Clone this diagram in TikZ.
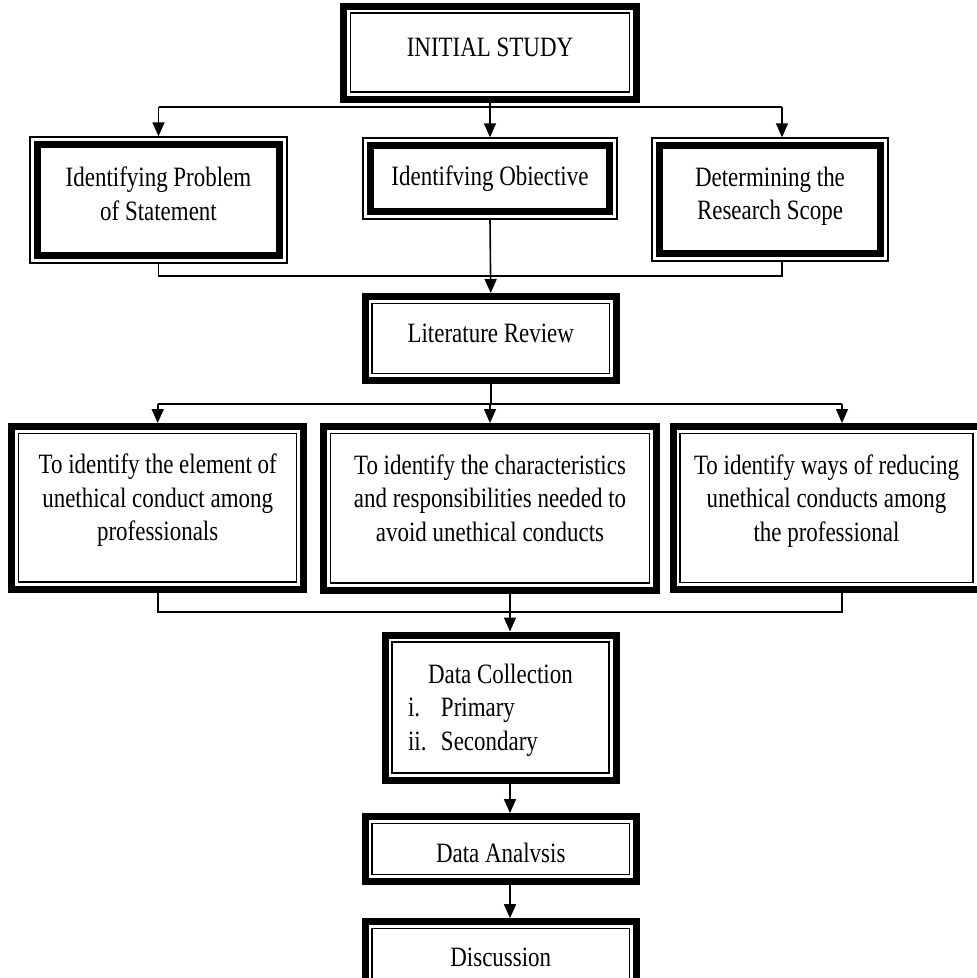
\documentclass[tikz,border=0pt]{standalone}
\usepackage{fontspec}
\setmainfont{Liberation Serif}[FakeStretch=0.82]
\usepackage{tikz}
\usetikzlibrary{arrows.meta, positioning, calc}
\tikzstyle{thickthin} = [rectangle, draw=black, line width=7pt, align=center, inner sep=0pt, font=\fontsize{28}{33.5}\selectfont]
\tikzstyle{thinthick} = [rectangle, draw=black, line width=1.5pt, align=center, inner sep=0pt, font=\fontsize{28}{33.5}\selectfont]
\tikzstyle{line} = [line width=1.6pt]
\tikzstyle{arrow} = [line width=1.6pt, -{Triangle[length=14pt, width=12pt]}]
% lines of a box, lifted by #1 inside the box
\newcommand{\liftup}[3][c]{\raisebox{#2}[\height][\depth]{\begin{tabular}{@{}#1@{}}#3\end{tabular}}}

\begin{document}
\begin{tikzpicture}[x=1pt, y=1pt]
	\useasboundingbox (0,0) rectangle (977,-978);
	% boxes
	\node (init) [thickthin, minimum width=293pt, minimum height=93pt] at (490,-52.5) {\liftup{3pt}{INITIAL STUDY}};
	\node (prob) [thinthick, minimum width=257pt, minimum height=126pt] at (158.5,-200) {\liftup{3pt}{Identifying Problem\\of Statement}};
	\node (obj) [thinthick, minimum width=254pt, minimum height=81pt] at (490,-178.5) {\liftup{0pt}{Identifving Obiective}};
	\node (det) [thinthick, minimum width=236pt, minimum height=123pt] at (770,-199.5) {\liftup{3pt}{Determining the\\Research Scope}};
	\node (lit) [thickthin, minimum width=251.5pt, minimum height=84pt] at (490.75,-338.5) {\liftup{3pt}{Literature Review}};
	\node (ele) [thickthin, minimum width=292pt, minimum height=162.5pt] at (157.7,-507.75) {\liftup{7pt}{To identify the element of\\unethical conduct among\\professionals}};
	\node (cha) [thickthin, minimum width=333.4pt, minimum height=163.5pt] at (490,-508.25) {\liftup{7pt}{To identify the characteristics\\and responsibilities needed to\\avoid unethical conducts}};
	\node (red) [thickthin, minimum width=307pt, minimum height=163pt] at (826.5,-508) {\liftup{7pt}{To identify ways of reducing\\unethical conducts among\\the professional}};
	\node (dc) [thickthin, minimum width=231pt, minimum height=145pt] at (500.5,-707.5) {\liftup[p{185pt}]{-2.5pt}{\hspace*{20pt}\mbox{Data Collection}\\\makebox[33pt][l]{i.}Primary\\\makebox[33pt][l]{ii.}Secondary}};
	\node (da) [thickthin, minimum width=271.5pt, minimum height=65pt] at (500.75,-849.1) {\liftup{-7pt}{Data Analvsis}};
	\node (disc) [thickthin, minimum width=271.5pt, minimum height=65pt] at (500.75,-954.2) {\liftup{-6pt}{Discussion}};

	% second border of each box
	\foreach \n in {init, lit, ele, cha, red, dc, da, disc}
		\draw[line width=1.5pt] ([shift={(10.5pt,-10.5pt)}]\n.north west) rectangle ([shift={(-10.5pt,10.5pt)}]\n.south east);
	\foreach \n in {prob, obj, det}
		\draw[line width=7pt] ([shift={(8.25pt,-8.25pt)}]\n.north west) rectangle ([shift={(-8.25pt,8.25pt)}]\n.south east);

	% bus lines
	\coordinate (bus1) at (0,-107);
	\coordinate (bus2) at (0,-276);
	\coordinate (bus3) at (0,-404);
	\coordinate (bus4) at (0,-612);
	\coordinate (spine) at (510,0);
	\coordinate (detin) at ([xshift=12pt]det.north);
	\coordinate (detout) at ([xshift=12pt]det.south);
	\coordinate (redin) at ([xshift=15.5pt]red.north);
	\coordinate (redout) at ([xshift=15.5pt]red.south);

	\draw[line] (init.south) -- (init.south |- bus1);
	\draw[line] (prob.north |- bus1) -- (detin |- bus1);
	\draw[arrow] (prob.north |- bus1) -- (prob.north);
	\draw[arrow] (obj.north |- bus1) -- (obj.north);
	\draw[arrow] (detin |- bus1) -- (detin);

	\draw[line] (prob.south) -- (prob.south |- bus2) -- (detout |- bus2) -- (detout);
	\draw[arrow] (obj.south) -- (lit.north);

	\draw[line] (lit.south) -- (lit.south |- bus3);
	\draw[line] (ele.north |- bus3) -- (redin |- bus3);
	\draw[arrow] (ele.north |- bus3) -- (ele.north);
	\draw[arrow] (cha.north |- bus3) -- (cha.north);
	\draw[arrow] (redin |- bus3) -- (redin);

	\draw[line] (ele.south) -- (ele.south |- bus4) -- (redout |- bus4) -- (redout);
	\draw[line] (spine |- cha.south) -- (spine |- bus4);
	\draw[arrow] (spine |- bus4) -- (spine |- dc.north);
	\draw[arrow] (spine |- dc.south) -- (spine |- da.north);
	\draw[arrow] (spine |- da.south) -- (spine |- disc.north);
\end{tikzpicture}
\end{document}
